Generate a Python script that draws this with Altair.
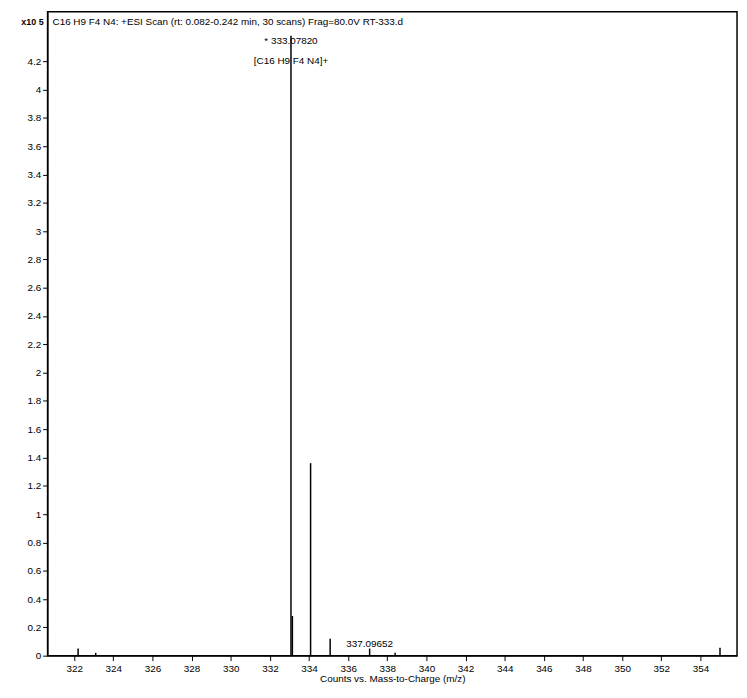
import altair as alt
import pandas as pd

mz = [322.2, 323.1, 333.078, 333.15, 334.08, 335.08, 337.097, 338.4, 355.0]
counts = [0.05, 0.02, 4.38, 0.28, 1.36, 0.12, 0.05, 0.02, 0.055]
peaks = pd.DataFrame({"mz": mz, "counts": counts})

ann_mz = [333.0782, 333.0782, 337.0965]
ann_y = [4.34, 4.2, 0.085]
ann_txt = ["* 333.07820", "[C16 H9 F4 N4]+", "337.09652"]
ann = pd.DataFrame({"mz": ann_mz, "y": ann_y, "t": ann_txt})

y_ticks = [0, 0.2, 0.4, 0.6, 0.8, 1, 1.2, 1.4, 1.6, 1.8, 2, 2.2, 2.4, 2.6, 2.8, 3,
           3.2, 3.4, 3.6, 3.8, 4, 4.2]

xs = alt.Scale(domain=[320.64, 355.87], nice=False, zero=False)
ys = alt.Scale(domain=[0, 4.55], nice=False)
font = "Liberation Sans"

bars = alt.Chart(peaks).mark_rule(color="black", strokeWidth=1.5).encode(
    x=alt.X("mz:Q", scale=xs, title="Counts vs. Mass-to-Charge (m/z)",
            axis=alt.Axis(values=list(range(322, 356, 2)), grid=False, tickSize=5,
                          labelFontSize=10, titleFontSize=10, titlePadding=0,
                          labelOverlap=False, labelPadding=3,
                          domainColor="black", tickColor="black", labelColor="black")),
    y=alt.Y("counts:Q", scale=ys, title=None,
            axis=alt.Axis(values=y_ticks, tickCount=22, grid=False, tickSize=5,
                          labelFontSize=10, labelOverlap=False, format="~g",
                          domainColor="black", tickColor="black", labelColor="black")),
    y2=alt.datum(0),
)

labels = alt.Chart(ann).mark_text(fontSize=10, font=font, align="center", baseline="middle").encode(
    x=alt.X("mz:Q", scale=xs), y=alt.Y("y:Q", scale=ys), text="t:N"
)

title = alt.Chart(pd.DataFrame({"t": ["C16 H9 F4 N4: +ESI Scan (rt: 0.082-0.242 min, 30 scans) Frag=80.0V RT-333.d"]})).mark_text(
    fontSize=10, font=font, align="left", baseline="middle"
).encode(x=alt.value(5), y=alt.value(10), text="t:N")

exp = alt.Chart(pd.DataFrame({"t": ["x10 5"]})).mark_text(
    fontSize=9, font=font, align="right", baseline="middle", fontWeight="bold"
).encode(x=alt.value(-4), y=alt.value(10), text="t:N")

chart = (bars + labels + title + exp).properties(
    width=697, height=651,
    autosize=alt.AutoSizeParams(type="none"),
    padding={"left": 40, "top": 0, "right": 2, "bottom": 33},
).configure_view(stroke="black", strokeWidth=1.5).configure_axis(
    labelFont=font, titleFont=font, titleFontWeight="normal"
)

chart.save("out.html", embed_options={"renderer": "svg", "actions": False})
